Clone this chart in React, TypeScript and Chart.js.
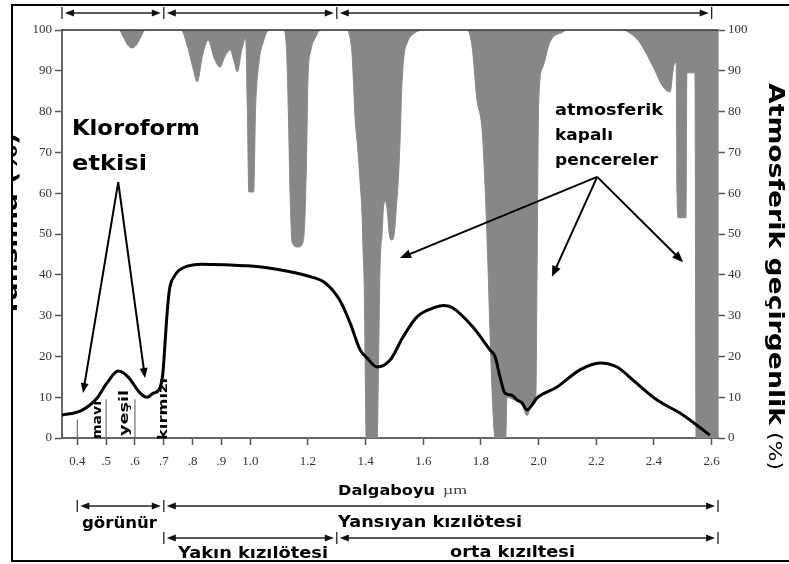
import React, { useEffect, useRef } from 'react';
import { Chart, registerables } from 'chart.js';

Chart.register(...registerables);

const W = 789;
const H = 564;

// axis range (µm) and ticks
const X_MIN = 0.347;
const X_MAX = 2.622;
const X_TICKS = [0.4, 0.5, 0.6, 0.7, 0.8, 0.9, 1.0, 1.2, 1.4, 1.6, 1.8, 2.0, 2.2, 2.4, 2.6];
const X_TICK_LABELS = ['0.4', '.5', '.6', '.7', '.8', '.9', '1.0', '1.2', '1.4', '1.6', '1.8', '2.0', '2.2', '2.4', '2.6'];

// vegetation reflectance curve (%)
const REFL_WL = [0.347, 0.41, 0.444, 0.469, 0.503, 0.542, 0.576, 0.618, 0.642, 0.664, 0.685, 0.697, 0.705, 0.712, 0.72, 0.735, 0.755, 0.785, 0.83, 0.93, 0.991, 1.106, 1.2, 1.26, 1.31, 1.346, 1.381, 1.405, 1.44, 1.485, 1.53, 1.578, 1.64, 1.67, 1.70, 1.772, 1.831, 1.849, 1.866, 1.883, 1.907, 1.925, 1.942, 1.96, 1.994, 2.064, 2.143, 2.213, 2.272, 2.327, 2.411, 2.49, 2.57, 2.594];
const REFL_VAL = [5.6, 6.6, 8.1, 9.8, 13.5, 16.4, 15.0, 11.0, 10.0, 11.0, 12.0, 16.0, 24.0, 31.0, 36.5, 39.5, 41.2, 42.2, 42.6, 42.4, 42.2, 41.2, 39.7, 38.0, 33.8, 28.2, 21.6, 19.6, 17.4, 19.1, 24.8, 29.7, 32.0, 32.5, 32.0, 27.2, 21.6, 19.9, 15.0, 11.0, 10.5, 9.3, 8.6, 6.9, 9.8, 12.5, 16.7, 18.4, 17.4, 14.2, 9.3, 6.1, 2.0, 0.7];

// atmospheric transmittance (%), grey area drawn above it
const TRANS_WL = [0.347, 0.545, 0.56, 0.575, 0.59, 0.605, 0.62, 0.635, 0.76, 0.78, 0.8, 0.816, 0.835, 0.854, 0.875, 0.895, 0.912, 0.93, 0.943, 0.955, 0.97, 0.984, 0.99, 0.995, 1.012, 1.018, 1.03, 1.045, 1.065, 1.115, 1.125, 1.132, 1.138, 1.145, 1.165, 1.183, 1.19, 1.196, 1.2, 1.21, 1.225, 1.245, 1.336, 1.346, 1.353, 1.358, 1.363, 1.373, 1.381, 1.388, 1.391, 1.395, 1.398, 1.402, 1.44, 1.445, 1.45, 1.457, 1.462, 1.469, 1.476, 1.482, 1.491, 1.5, 1.507, 1.513, 1.519, 1.525, 1.532, 1.545, 1.565, 1.6, 1.752, 1.769, 1.786, 1.804, 1.814, 1.823, 1.831, 1.842, 1.849, 1.886, 1.89, 1.91, 1.94, 1.96, 1.975, 1.99, 1.995, 2.0, 2.015, 2.039, 2.084, 2.1, 2.29, 2.33, 2.352, 2.397, 2.432, 2.456, 2.466, 2.473, 2.477, 2.48, 2.484, 2.511, 2.514, 2.542, 2.546, 2.622];
const TRANS_VAL = [100, 100, 98.2, 96.3, 95.6, 96.3, 98.2, 100, 100, 96.5, 91, 87.3, 94, 97.5, 93, 90.9, 93.5, 95.1, 92.5, 89.7, 95, 98, 80, 60.3, 60.3, 80, 92, 97, 100, 100, 96, 80, 60, 48, 46.8, 48, 55, 72, 88, 95, 98, 100, 100, 98, 94, 87, 79, 70.6, 62.5, 54, 46, 38, 20, 0, 0, 20, 42, 50, 56.6, 58, 55, 50, 48.5, 50.5, 57, 63, 72, 85, 93, 97, 99, 100, 100, 96, 83, 75.5, 62, 45, 26.5, 6, 0, 0, 10, 9.5, 8.5, 5.5, 8, 9, 45, 82, 91, 97, 99.5, 100, 100, 98.5, 96.8, 91, 86, 84.8, 90, 92, 92, 60, 54, 54, 89.5, 89.5, 0, 0];

const Y_TICKS = [0, 10, 20, 30, 40, 50, 60, 70, 80, 90, 100];

const GREY = '#878787';
const SANS = '"DejaVu Sans", sans-serif';
const SERIF = '"Liberation Serif", serif';

function fitText(ctx: CanvasRenderingContext2D, text: string, x: number, y: number, width: number, font: string, rot = 0, align: CanvasTextAlign = 'left', color = '#000') {
  ctx.save();
  ctx.font = font;
  ctx.fillStyle = color;
  ctx.textBaseline = 'alphabetic';
  const w = ctx.measureText(text).width;
  const s = width / w;
  ctx.translate(x, y);
  if (rot) ctx.rotate(rot);
  ctx.scale(s, 1);
  ctx.textAlign = align;
  ctx.fillText(text, 0, 0);
  ctx.restore();
}

function head(ctx: CanvasRenderingContext2D, x: number, y: number, ang: number, len: number, half: number) {
  const c = Math.cos(ang), s = Math.sin(ang);
  ctx.beginPath();
  ctx.moveTo(x, y);
  ctx.lineTo(x - len * c + half * s, y - len * s - half * c);
  ctx.lineTo(x - len * c - half * s, y - len * s + half * c);
  ctx.closePath();
  ctx.fill();
}

function arrow(ctx: CanvasRenderingContext2D, x1: number, y1: number, x2: number, y2: number, lw: number, len: number, half: number) {
  const ang = Math.atan2(y2 - y1, x2 - x1);
  ctx.save();
  ctx.strokeStyle = '#000';
  ctx.fillStyle = '#000';
  ctx.lineWidth = lw;
  ctx.beginPath();
  ctx.moveTo(x1, y1);
  ctx.lineTo(x2 - Math.cos(ang) * len * 0.6, y2 - Math.sin(ang) * len * 0.6);
  ctx.stroke();
  head(ctx, x2, y2, ang, len, half);
  ctx.restore();
}

function dimRow(ctx: CanvasRenderingContext2D, bounds: number[], y: number) {
  ctx.save();
  ctx.strokeStyle = '#222';
  ctx.fillStyle = '#111';
  ctx.lineWidth = 1.3;
  bounds.forEach((b) => {
    ctx.beginPath();
    ctx.moveTo(b, y - 6);
    ctx.lineTo(b, y + 6);
    ctx.stroke();
  });
  for (let i = 0; i < bounds.length - 1; i++) {
    const a = bounds[i] + 3;
    const b = bounds[i + 1] - 3;
    ctx.beginPath();
    ctx.moveTo(a + 4, y);
    ctx.lineTo(b - 4, y);
    ctx.stroke();
    head(ctx, a, y, Math.PI, 9, 3.5);
    head(ctx, b, y, 0, 9, 3.5);
  }
  ctx.restore();
}

const annotations = {
  id: 'annotations',
  afterDatasetsDraw(chart: any) {
    const ctx: CanvasRenderingContext2D = chart.ctx;
    const xs = chart.scales.x;
    const ys = chart.scales.y;
    const X = (v: number) => xs.getPixelForValue(v);
    const Y = (v: number) => ys.getPixelForValue(v);
    const area = chart.chartArea;

    // top border of plot
    ctx.save();
    ctx.strokeStyle = '#333';
    ctx.lineWidth = 1.5;
    ctx.beginPath();
    ctx.moveTo(area.left, area.top);
    ctx.lineTo(area.right, area.top);
    ctx.stroke();

    // visible band dividers
    ctx.strokeStyle = '#555';
    ctx.lineWidth = 1;
    [[0.4, 4.5], [0.5, 9.5], [0.6, 9.5]].forEach(([v, h]) => {
      ctx.beginPath();
      ctx.moveTo(X(v), Y(0));
      ctx.lineTo(X(v), Y(h));
      ctx.stroke();
    });
    ctx.restore();

    // chlorophyll arrows
    const ax = X(0.542), ay = Y(62.7);
    arrow(ctx, ax, ay, X(0.42), Y(11), 2, 10, 4);
    arrow(ctx, ax, ay, X(0.635), Y(14.7), 2, 10, 4);

    // atmospheric window arrows
    const bx = X(2.203), by = Y(64);
    arrow(ctx, bx, by, X(1.519), Y(44.1), 2, 11, 4.5);
    arrow(ctx, bx, by, X(2.046), Y(39.5), 2, 11, 4.5);
    arrow(ctx, bx, by, X(2.501), Y(43.1), 2, 11, 4.5);

    // texts in plot
    fitText(ctx, 'Kloroform', 72, 135, 128, `bold 21px ${SANS}`);
    fitText(ctx, 'etkisi', 72, 170, 75, `bold 21px ${SANS}`);
    fitText(ctx, 'atmosferik', 555, 115, 108, `bold 15px ${SANS}`);
    fitText(ctx, 'kapalı', 555, 140, 58, `bold 15px ${SANS}`);
    fitText(ctx, 'pencereler', 555, 165, 103, `bold 15px ${SANS}`);

    fitText(ctx, 'mavi', 101, 420, 38, `bold 12px ${SANS}`, -Math.PI / 2, 'center');
    fitText(ctx, 'yeşil', 128, 413, 46, `bold 12px ${SANS}`, -Math.PI / 2, 'center');
    fitText(ctx, 'kırmızı', 167, 409, 62, `bold 12px ${SANS}`, -Math.PI / 2, 'center');
  },
  afterDraw(chart: any) {
    const ctx: CanvasRenderingContext2D = chart.ctx;
    const xs = chart.scales.x;
    const X = (v: number) => xs.getPixelForValue(v);
    const area = chart.chartArea;

    // left axis title (mostly cut off by the frame)
    ctx.save();
    ctx.beginPath();
    ctx.rect(12, 30, 14, 400);
    ctx.clip();
    fitText(ctx, 'Yansıma (%)', 17, 225, 184, `bold 20px ${SANS}`, -Math.PI / 2, 'center');
    ctx.restore();

    // outer frame
    ctx.save();
    ctx.strokeStyle = '#000';
    ctx.lineWidth = 2;
    ctx.beginPath();
    ctx.moveTo(W, 5);
    ctx.lineTo(12, 5);
    ctx.lineTo(12, 561);
    ctx.lineTo(W, 561);
    ctx.stroke();
    ctx.restore();

    // dimension rows
    dimRow(ctx, [area.left, X(0.7), X(1.3), X(2.6)], 13);
    dimRow(ctx, [X(0.4), X(0.7), area.right], 506);
    dimRow(ctx, [X(0.7), X(1.3), area.right], 538);

    fitText(ctx, 'Dalgaboyu', 338, 495, 97, `bold 14px ${SANS}`);
    fitText(ctx, 'µm', 443, 494, 24, `12px ${SERIF}`, 0, 'left', '#444');
    fitText(ctx, 'görünür', 82, 528, 75, `bold 15px ${SANS}`);
    fitText(ctx, 'Yansıyan kızılötesi', 338, 527, 184, `bold 15px ${SANS}`);
    fitText(ctx, 'Yakın kızılötesi', 178, 558, 150, `bold 15px ${SANS}`);
    fitText(ctx, 'orta kızıltesi', 450, 557, 125, `bold 15px ${SANS}`);

    // right axis title
    fitText(ctx, 'Atmosferik geçirgenlik', 769, 83, 342, `bold 21px ${SANS}`, Math.PI / 2, 'left');
    fitText(ctx, '(%)', 769, 432, 38, `17px ${SANS}`, Math.PI / 2, 'left');
  },
};

export default function App() {
  const ref = useRef<HTMLCanvasElement>(null);
  useEffect(() => {
    const canvas = ref.current;
    if (!canvas) return;
    const tickFont = { family: SERIF, size: 13 };
    const chart = new Chart(canvas, {
      type: 'line',
      data: {
        datasets: [
          {
            label: 'Yansıma',
            data: REFL_WL.map((x, i) => ({ x, y: REFL_VAL[i] })),
            borderColor: '#000',
            borderWidth: 3,
            pointRadius: 0,
            cubicInterpolationMode: 'monotone',
            fill: false,
            order: 0,
            yAxisID: 'y',
          },
          {
            label: 'Atmosferik geçirgenlik',
            data: TRANS_WL.map((x, i) => ({ x, y: TRANS_VAL[i] })),
            borderColor: GREY,
            backgroundColor: GREY,
            borderWidth: 1,
            pointRadius: 0,
            cubicInterpolationMode: 'monotone',
            fill: 'end',
            order: 1,
            yAxisID: 'y1',
          },
        ],
      },
      options: {
        responsive: false,
        animation: false,
        layout: { padding: { top: 30, left: 0, right: 0, bottom: 0 } },
        plugins: { legend: { display: false }, tooltip: { enabled: false } },
        scales: {
          x: {
            type: 'linear',
            min: X_MIN,
            max: X_MAX,
            afterBuildTicks: (s: any) => {
              s.ticks = X_TICKS.map((v) => ({ value: v }));
            },
            afterFit: (s: any) => {
              s.height = H - 438;
            },
            ticks: {
              autoSkip: false,
              maxRotation: 0,
              padding: 9,
              color: '#333',
              font: tickFont,
              callback: (v: any) => {
                const i = X_TICKS.findIndex((t) => Math.abs(t - Number(v)) < 1e-6);
                return i >= 0 ? X_TICK_LABELS[i] : '';
              },
            },
            grid: { drawOnChartArea: false, tickLength: 7, tickColor: '#555', tickWidth: 1.5 },
            border: { color: '#666', width: 2 },
          },
          y: {
            type: 'linear',
            position: 'left',
            min: 0,
            max: 100,
            afterBuildTicks: (s: any) => {
              s.ticks = Y_TICKS.map((v) => ({ value: v }));
            },
            afterFit: (s: any) => {
              s.width = 62;
            },
            ticks: { color: '#333', font: tickFont, padding: 3 },
            grid: { drawOnChartArea: false, tickLength: 7, tickColor: '#555', tickWidth: 1.5 },
            border: { color: '#666', width: 2 },
          },
          y1: {
            type: 'linear',
            position: 'right',
            min: 0,
            max: 100,
            afterBuildTicks: (s: any) => {
              s.ticks = Y_TICKS.map((v) => ({ value: v }));
            },
            afterFit: (s: any) => {
              s.width = W - 718;
            },
            ticks: { color: '#333', font: tickFont, padding: 3 },
            grid: { drawOnChartArea: false, tickLength: 7, tickColor: '#555', tickWidth: 1.5 },
            border: { color: '#666', width: 1.5 },
          },
        },
      },
      plugins: [annotations],
    } as any);
    return () => chart.destroy();
  }, []);

  return (
    <div style={{ position: 'fixed', left: 0, top: 0, width: W, height: H, background: '#fff' }}>
      <canvas ref={ref} width={W} height={H} style={{ width: W, height: H, display: 'block' }} />
    </div>
  );
}
